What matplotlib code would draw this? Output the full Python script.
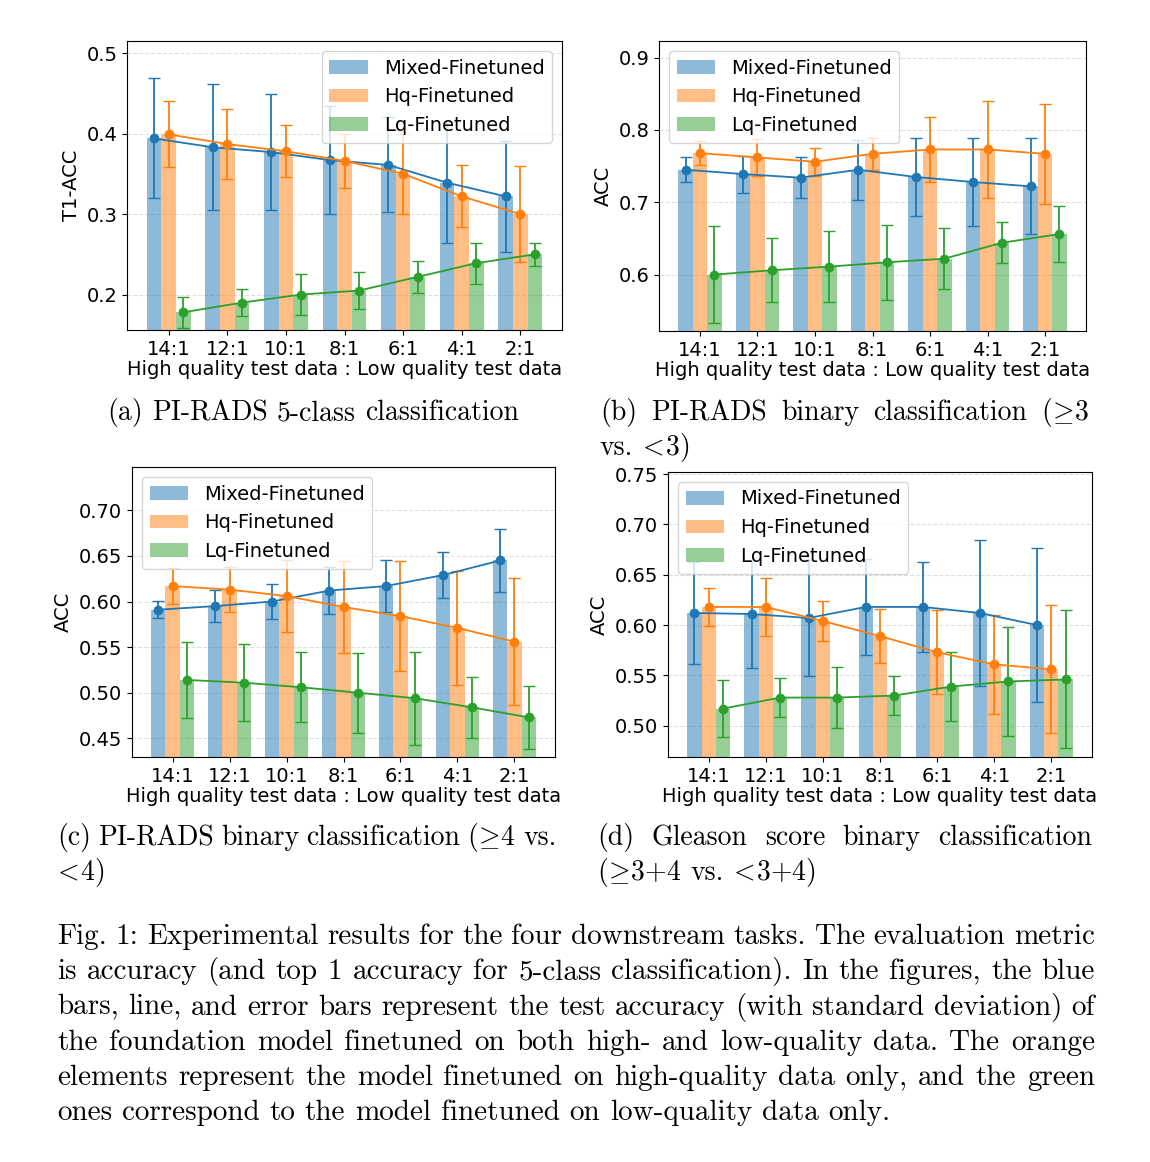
import matplotlib
matplotlib.use('Agg')
import numpy as np
import matplotlib.pyplot as plt
from matplotlib.ticker import MultipleLocator

# Данные
ratios = ['14:1', '12:1', '10:1', '8:1', '6:1', '4:1', '2:1']
labels = ['Mixed-Finetuned', 'Hq-Finetuned', 'Lq-Finetuned']

# (a) PI-RADS 5-class classification
a_mixed = [0.394, 0.383, 0.377, 0.367, 0.361, 0.339, 0.322]
a_mixed_std = [0.0745, 0.0785, 0.0725, 0.067, 0.059, 0.075, 0.069]
a_hq = [0.399, 0.387, 0.378, 0.366, 0.350, 0.322, 0.300]
a_hq_std = [0.041, 0.044, 0.0325, 0.033, 0.050, 0.0385, 0.060]
a_lq = [0.178, 0.190, 0.200, 0.205, 0.222, 0.239, 0.250]
a_lq_std = [0.019, 0.0165, 0.0255, 0.023, 0.0195, 0.0255, 0.014]

# (b) PI-RADS binary (>=3 vs <3)
b_mixed = [0.745, 0.739, 0.734, 0.745, 0.735, 0.728, 0.722]
b_mixed_std = [0.017, 0.0255, 0.0285, 0.0415, 0.0535, 0.0605, 0.0665]
b_hq = [0.768, 0.762, 0.756, 0.767, 0.773, 0.773, 0.767]
b_hq_std = [0.017, 0.026, 0.019, 0.0225, 0.045, 0.0665, 0.0695]
b_lq = [0.600, 0.606, 0.611, 0.617, 0.622, 0.644, 0.656]
b_lq_std = [0.0675, 0.044, 0.0495, 0.0515, 0.042, 0.0285, 0.039]

# (c) PI-RADS binary (>=4 vs <4)
c_mixed = [0.591, 0.595, 0.600, 0.612, 0.617, 0.629, 0.645]
c_mixed_std = [0.0095, 0.0175, 0.019, 0.0255, 0.029, 0.0255, 0.035]
c_hq = [0.617, 0.613, 0.606, 0.594, 0.584, 0.571, 0.556]
c_hq_std = [0.0195, 0.025, 0.039, 0.0505, 0.060, 0.062, 0.0695]
c_lq = [0.514, 0.511, 0.506, 0.500, 0.494, 0.484, 0.473]
c_lq_std = [0.042, 0.0425, 0.0385, 0.044, 0.051, 0.0335, 0.0345]

# (d) Gleason score binary
d_mixed = [0.612, 0.611, 0.607, 0.618, 0.618, 0.612, 0.600]
d_mixed_std = [0.051, 0.0535, 0.058, 0.048, 0.045, 0.0725, 0.0765]
d_hq = [0.618, 0.618, 0.604, 0.589, 0.573, 0.561, 0.556]
d_hq_std = [0.019, 0.029, 0.020, 0.027, 0.0415, 0.049, 0.0635]
d_lq = [0.517, 0.528, 0.528, 0.530, 0.539, 0.544, 0.546]
d_lq_std = [0.0285, 0.0195, 0.030, 0.0195, 0.0345, 0.054, 0.0685]

GE = r'$\!\geq\!$'
LT = r'$\!<\!$'
sub_captions = [
    ["(a) PI-RADS 5-class classification"],
    ["(b) PI-RADS binary classification (" + GE + "3", "vs. " + LT + "3)"],
    ["(c) PI-RADS binary classification (" + GE + "4 vs.", LT + "4)"],
    ["(d) Gleason score binary classification", "(" + GE + "3+4 vs. " + LT + "3+4)"],
]
fig_caption = [
    "Fig. 1: Experimental results for the four downstream tasks. The evaluation metric",
    "is accuracy (and top 1 accuracy for 5-class classification). In the figures, the blue",
    "bars, line, and error bars represent the test accuracy (with standard deviation) of",
    "the foundation model finetuned on both high- and low-quality data. The orange",
    "elements represent the model finetuned on high-quality data only, and the green",
    "ones correspond to the model finetuned on low-quality data only.",
]

W, H = 1150, 1162
COLORS = ['tab:blue', 'tab:orange', 'tab:green']
CAP_FONT = 'cmr10'
plt.rcParams['mathtext.fontset'] = 'cm'
plt.rcParams['font.size'] = 14


def px(x, y):
    return x / W, 1 - y / H


def make_axes(fig, left, top, right, bottom):
    return fig.add_axes([left / W, 1 - bottom / H, (right - left) / W, (bottom - top) / H])


def draw_panel(ax, means, stds, ylabel, ylim, step, loc):
    x = np.arange(len(ratios))
    w = 0.25
    for i in range(3):
        xs = x + (i - 1) * w
        ax.bar(xs, means[i], w, color=COLORS[i], alpha=0.5, label=labels[i])
        ax.errorbar(xs, means[i], yerr=stds[i], fmt='-o', color=COLORS[i],
                    capsize=4, ms=6, lw=1.3, elinewidth=1.3)
    ax.set_xticks(x)
    ax.set_xticklabels(ratios)
    ax.set_ylim(*ylim)
    ax.yaxis.set_major_locator(MultipleLocator(step))
    ax.set_ylabel(ylabel)
    ax.set_xlabel('High quality test data : Low quality test data', labelpad=1)
    ax.grid(axis='y', linestyle='--', alpha=0.4)
    ax.set_axisbelow(True)
    ax.legend(loc=loc)


# Строка подписи с выравниванием по ширине (как в LaTeX)
def caption_line(fig, text, x0, y, size, x1=None, center=None):
    r = fig.canvas.get_renderer()
    words = text.split(' ')
    objs = [fig.text(0, 0, wd, fontsize=size, family=CAP_FONT, va='baseline')
            for wd in words]
    widths = [o.get_window_extent(r).width for o in objs]
    if x1 is not None and len(words) > 1:
        gap = (x1 - x0 - sum(widths)) / (len(words) - 1)
    else:
        gap = size * 0.333 * fig.dpi / 72
    if center is not None:
        x0 = center - (sum(widths) + gap * (len(words) - 1)) / 2
    xc = x0
    for o, wd in zip(objs, widths):
        o.set_position(px(xc, y))
        xc += wd + gap


def main():
    fig = plt.figure(figsize=(W / 100, H / 100), dpi=100)

    ax_a = make_axes(fig, 127, 41, 562, 330)
    draw_panel(ax_a, [a_mixed, a_hq, a_lq], [a_mixed_std, a_hq_std, a_lq_std],
               'T1-ACC', (0.156, 0.515), 0.1, 'upper right')

    ax_b = make_axes(fig, 659, 41, 1086, 331)
    draw_panel(ax_b, [b_mixed, b_hq, b_lq], [b_mixed_std, b_hq_std, b_lq_std],
               'ACC', (0.522, 0.923), 0.1, 'upper left')

    ax_c = make_axes(fig, 132, 467, 555, 757)
    draw_panel(ax_c, [c_mixed, c_hq, c_lq], [c_mixed_std, c_hq_std, c_lq_std],
               'ACC', (0.4295, 0.7475), 0.05, 'upper left')

    ax_d = make_axes(fig, 668, 472, 1092, 757)
    draw_panel(ax_d, [d_mixed, d_hq, d_lq], [d_mixed_std, d_hq_std, d_lq_std],
               'ACC', (0.469, 0.752), 0.05, 'upper left')

    # Подписи к панелям
    sub = 20
    caption_line(fig, sub_captions[0][0], 0, 420, sub, center=313)
    caption_line(fig, sub_captions[1][0], 600, 420, sub, x1=1090)
    caption_line(fig, sub_captions[1][1], 600, 455, sub)
    caption_line(fig, sub_captions[2][0], 57, 845, sub, x1=557)
    caption_line(fig, sub_captions[2][1], 57, 880, sub)
    caption_line(fig, sub_captions[3][0], 597, 845, sub, x1=1092)
    caption_line(fig, sub_captions[3][1], 597, 880, sub)

    # Подпись к рисунку
    for k, line in enumerate(fig_caption):
        y = 944 + k * 35.3
        if k < len(fig_caption) - 1:
            caption_line(fig, line, 57, y, 21, x1=1095)
        else:
            caption_line(fig, line, 57, y, 21)

    fig.savefig('out.png', dpi=100)


if __name__ == "__main__":
    main()
